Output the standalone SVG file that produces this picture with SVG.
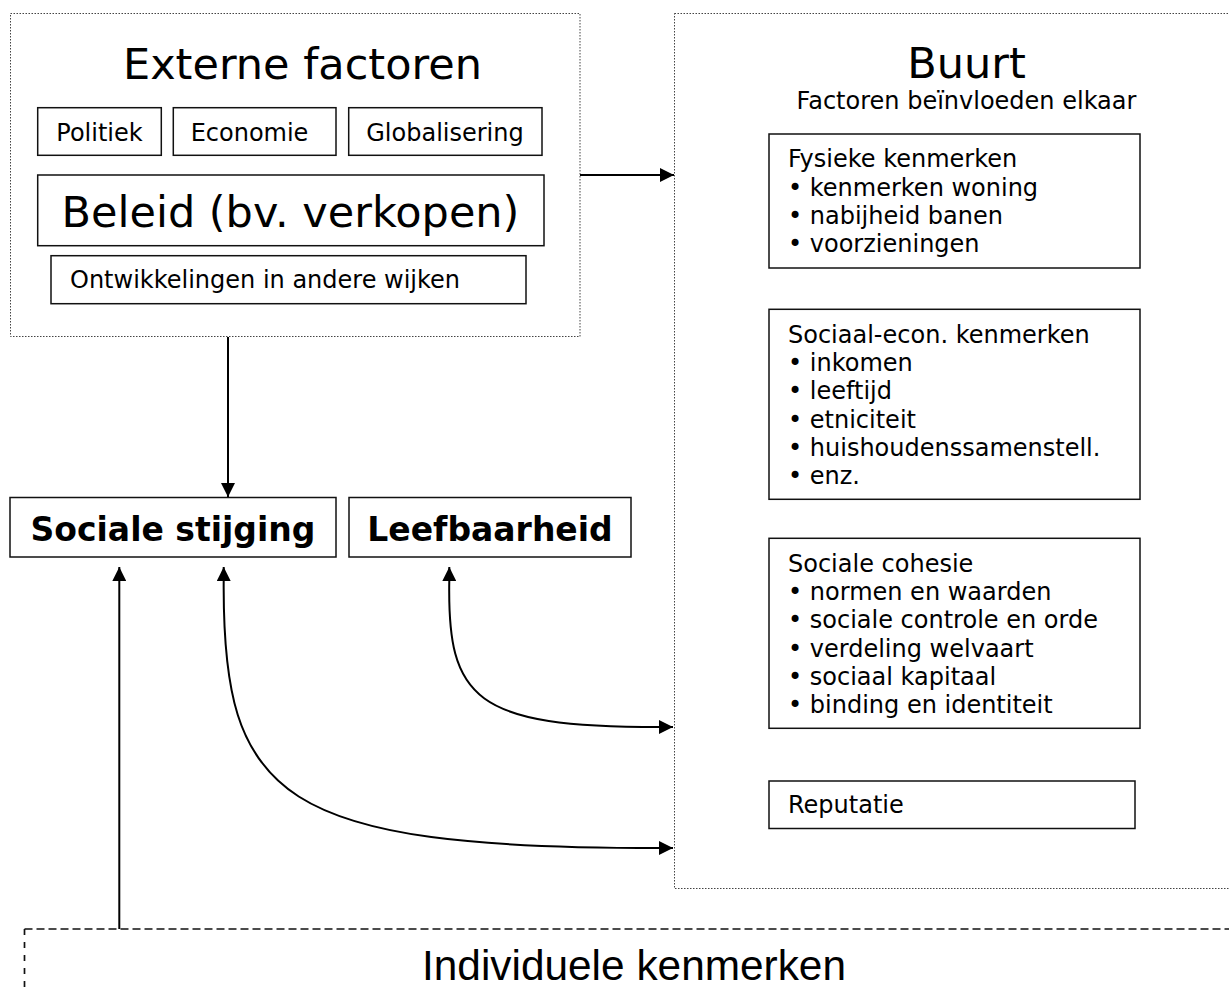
<svg xmlns="http://www.w3.org/2000/svg" width="1229" height="994" viewBox="0 0 1229 994">
<style>
  .t { font-family: "DejaVu Sans", Verdana, sans-serif; fill: #000; }
  .big { font-size: 43px; }
  .sm { font-size: 24px; }
  .bold { font-size: 33px; font-weight: bold; }
  .box { fill: #fff; stroke: #111; stroke-width: 1.5; }
  .dotted { fill: none; stroke: #444; stroke-width: 1; stroke-dasharray: 1.5 1.5; }
  .conn { fill: none; stroke: #000; stroke-width: 2; }
  .narrow { font-family: "Liberation Sans", Arial, sans-serif; font-size: 42px; fill: #000; }
</style>
<defs>
  <marker id="ah" viewBox="0 0 14 14" refX="14" refY="7" markerWidth="14" markerHeight="14" markerUnits="userSpaceOnUse" orient="auto-start-reverse">
    <path d="M0,0 L14,7 L0,14 z" fill="#000"/>
  </marker>
</defs>
<rect width="1229" height="994" fill="#fff"/>

<g id="externe-factoren">
  <rect class="dotted" x="10.5" y="13.5" width="569.5" height="323"/>
  <text class="t big" x="302.5" y="79" text-anchor="middle">Externe factoren</text>
</g>
<g id="politiek">
  <rect class="box" x="37.7" y="107.7" width="123.6" height="47.6"/>
  <text class="t sm" x="99.5" y="141" text-anchor="middle">Politiek</text>
</g>
<g id="economie">
  <rect class="box" x="173.3" y="107.7" width="162.7" height="47.6"/>
  <text class="t sm" x="249.5" y="141" text-anchor="middle">Economie</text>
</g>
<g id="globalisering">
  <rect class="box" x="348.7" y="107.7" width="193.3" height="47.6"/>
  <text class="t sm" x="445" y="141" text-anchor="middle">Globalisering</text>
</g>
<g id="beleid">
  <rect class="box" x="37.7" y="175" width="506.3" height="70.7"/>
  <text class="t big" x="290.5" y="227" text-anchor="middle">Beleid (bv. verkopen)</text>
</g>
<g id="ontwikkelingen">
  <rect class="box" x="51" y="255.7" width="475" height="48"/>
  <text class="t sm" x="70" y="287.5">Ontwikkelingen in andere wijken</text>
</g>

<g id="buurt">
  <rect class="dotted" x="674.5" y="13.5" width="570" height="875"/>
  <text class="t big" x="966.5" y="78" text-anchor="middle">Buurt</text>
  <text class="t sm" x="966.5" y="109" text-anchor="middle">Factoren beïnvloeden elkaar</text>
</g>
<g id="fysieke-kenmerken">
  <rect class="box" x="769" y="134" width="371" height="134"/>
  <text class="t sm" x="788" y="167.3">Fysieke kenmerken</text>
  <text class="t sm" x="788" y="195.6">• kenmerken woning</text>
  <text class="t sm" x="788" y="223.9">• nabijheid banen</text>
  <text class="t sm" x="788" y="252.2">• voorzieningen</text>
</g>
<g id="sociaal-econ-kenmerken">
  <rect class="box" x="769" y="309.3" width="371" height="190"/>
  <text class="t sm" x="788" y="342.8">Sociaal-econ. kenmerken</text>
  <text class="t sm" x="788" y="371.1">• inkomen</text>
  <text class="t sm" x="788" y="399.4">• leeftijd</text>
  <text class="t sm" x="788" y="427.7">• etniciteit</text>
  <text class="t sm" x="788" y="456">• huishoudenssamenstell.</text>
  <text class="t sm" x="788" y="484.3">• enz.</text>
</g>
<g id="sociale-cohesie">
  <rect class="box" x="769" y="538.3" width="371" height="190"/>
  <text class="t sm" x="788" y="571.7">Sociale cohesie</text>
  <text class="t sm" x="788" y="600">• normen en waarden</text>
  <text class="t sm" x="788" y="628.3">• sociale controle en orde</text>
  <text class="t sm" x="788" y="656.6">• verdeling welvaart</text>
  <text class="t sm" x="788" y="684.9">• sociaal kapitaal</text>
  <text class="t sm" x="788" y="713.2">• binding en identiteit</text>
</g>
<g id="reputatie">
  <rect class="box" x="769" y="781" width="366" height="47.5"/>
  <text class="t sm" x="788" y="813">Reputatie</text>
</g>

<g id="sociale-stijging">
  <rect class="box" x="10" y="497.5" width="326" height="59.5"/>
  <text class="t bold" x="173" y="541" text-anchor="middle">Sociale stijging</text>
</g>
<g id="leefbaarheid">
  <rect class="box" x="349" y="497.5" width="282" height="59.5"/>
  <text class="t bold" x="490" y="541" text-anchor="middle">Leefbaarheid</text>
</g>

<g id="individuele-kenmerken">
  <path d="M24.5,929 H1229" fill="none" stroke="#111" stroke-width="1.7" stroke-dasharray="8 4"/>
  <path d="M24.5,929 V994" fill="none" stroke="#111" stroke-width="1.7" stroke-dasharray="6 7"/>
  <text class="narrow" x="634" y="980" text-anchor="middle" textLength="424" lengthAdjust="spacingAndGlyphs">Individuele kenmerken</text>
</g>

<g id="connectors">
  <path class="conn" d="M580,175 H674" marker-end="url(#ah)"/>
  <path class="conn" d="M228,337 V497" marker-end="url(#ah)"/>
  <path class="conn" d="M119.3,929 V567" marker-end="url(#ah)"/>
  <path class="conn" d="M223.7,567 V580 C222,800 280,848 660,848 H673" marker-start="url(#ah)" marker-end="url(#ah)"/>
  <path class="conn" d="M449.3,567 V580 C447,700 475,727 660,727 H673" marker-start="url(#ah)" marker-end="url(#ah)"/>
</g>
</svg>
